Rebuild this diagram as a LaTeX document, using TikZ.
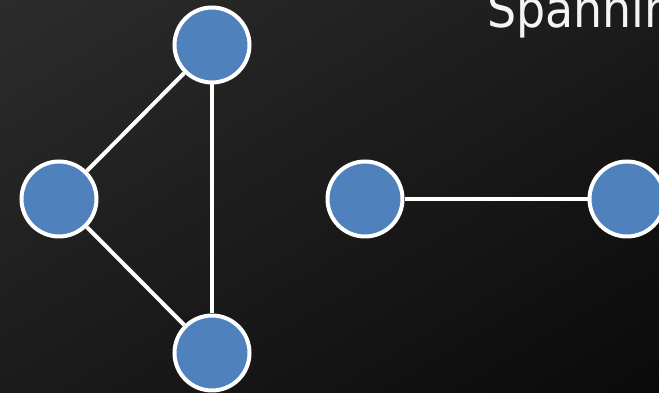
\documentclass[tikz,border=0pt]{standalone}
\usepackage{fontspec}
\usetikzlibrary{shadings}
\newfontfamily\titlefont[FakeStretch=0.9]{DejaVu Sans}
\definecolor{nodeblue}{HTML}{4F81BD}
\definecolor{bgtl}{HTML}{2C2C2C}
\definecolor{bgmid}{HTML}{1B1B1B}
\definecolor{bgbr}{HTML}{0A0A0A}
\definecolor{titlewhite}{HTML}{F4F4F4}
\begin{document}
\begin{tikzpicture}[x=1pt,y=1pt,
  vertex/.style={circle, fill=nodeblue, draw=white, line width=4pt, minimum size=75pt, inner sep=0pt},
  edge/.style={draw=white, line width=4pt},
  titletext/.style={text=titlewhite, font=\titlefont\fontsize{51}{60}\selectfont, inner sep=0pt, anchor=base west}]
\useasboundingbox (0,0) rectangle (659,393);
\clip (0,0) rectangle (659,393);
\shade[upper left=bgtl, upper right=bgmid, lower left=bgmid, lower right=bgbr] (0,0) rectangle (659,393);
\node[titletext] (title) at (487,365) {Spanning};
\node[vertex] (a) at (212,348) {};
\node[vertex] (b) at (59,194) {};
\node[vertex] (c) at (212,40) {};
\node[vertex] (d) at (365,194) {};
\node[vertex] (e) at (627,194) {};
\draw[edge] (a) -- (b);
\draw[edge] (b) -- (c);
\draw[edge] (a) -- (c);
\draw[edge] (d) -- (e);
\end{tikzpicture}
\end{document}
